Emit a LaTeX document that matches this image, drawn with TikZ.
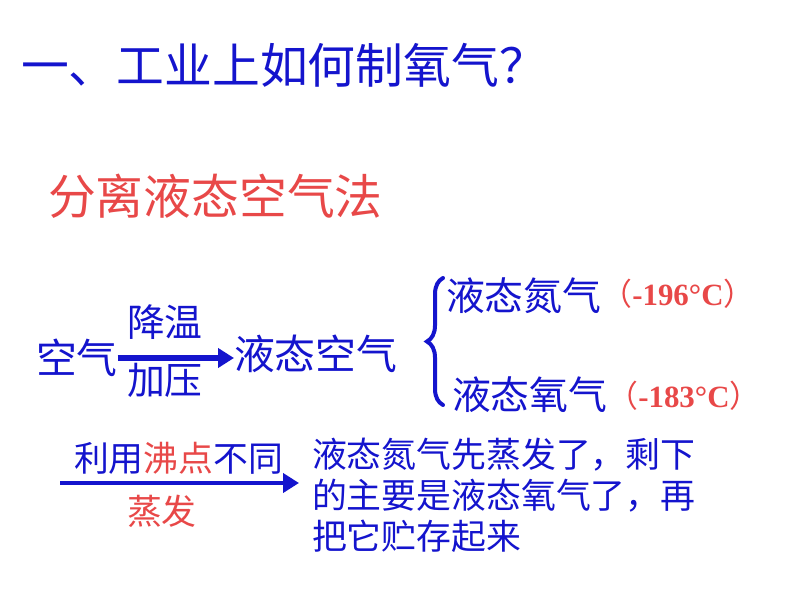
\documentclass[tikz,border=0pt]{standalone}
\usepackage{fontspec}
\newfontfamily\cjk{Noto Sans CJK SC}
\newfontfamily\numfont{Liberation Serif}
\usetikzlibrary{positioning, calc, arrows.meta, decorations.pathreplacing}
\definecolor{lessonblue}{RGB}{20,20,205}
\definecolor{lessonred}{RGB}{232,72,72}

\begin{document}
\begin{tikzpicture}[x=1bp, y=-1bp]
    	\tikzstyle{txt}=[inner sep=0pt, outer sep=0pt, anchor=west, text=lessonblue];
    	\tikzstyle{big}=[txt, font=\cjk\fontsize{48}{58}\selectfont];
    	\tikzstyle{mid}=[txt, font=\cjk\fontsize{41}{50}\selectfont];
    	\tikzstyle{small}=[txt, font=\cjk\fontsize{35}{41}\selectfont];
    	\tikzstyle{temp}=[txt, text=lessonred, font=\fontsize{31}{36}\selectfont];
    	\tikzstyle{arr}=[draw=lessonblue, line width=5.5bp, -{Triangle[length=16bp, width=19bp]}];

    	\useasboundingbox (0, 0) rectangle (794, 596);

   	\node[big] (title) at (21, 65) {一、工业上如何制氧气？};
   	\node[big, text=lessonred] (method) at (48, 196) {分离液态空气法};

   	\node[mid] (air) at (36, 358) {空气};
   	\node[mid] (liquid) at (234, 354) {液态空气};
   	\node[small, font=\cjk\fontsize{38}{44}\selectfont] (cool) at (127, 322) {降温};
   	\node[small, font=\cjk\fontsize{38}{44}\selectfont] (press) at (127, 380) {加压};

   	\node[small, font=\cjk\fontsize{39}{46}\selectfont] (nitro) at (446, 296) {液态氮气};
   	\node[temp] (ntemp) at ([yshift=2bp]nitro.east) {{\cjk （}{\numfont\bfseries -196°C}{\cjk ）}};
   	\node[small, font=\cjk\fontsize{39}{46}\selectfont] (oxy) at (452, 395) {液态氧气};
   	\node[temp] (otemp) at ([yshift=-1bp]oxy.east) {{\cjk （}{\numfont\bfseries -183°C}{\cjk ）}};

   	\node[small] (rule) at (74, 458) {利用{\color{lessonred}沸点}不同};
   	\node[small, text=lessonred] (boil) at (127, 511) {蒸发};
   	\node[small, anchor=north west, align=left] (result) at (312, 438)
   	    {液态氮气先蒸发了，剩下\\的主要是液态氧气了，再\\把它贮存起来};

    	\coordinate (s) at (60, 483);
    	\coordinate (e) at (299, 483);

    	\draw[arr] (air.east) -- (air.east -| liquid.west);
    	\draw[arr, line width=4.5bp] (s) -- (e);
    	\draw[lessonblue, line width=4bp, line cap=round, decorate,
    	    decoration={brace, amplitude=16bp}] (443, 405) -- (443, 278);

	\end{tikzpicture}
\end{document}
